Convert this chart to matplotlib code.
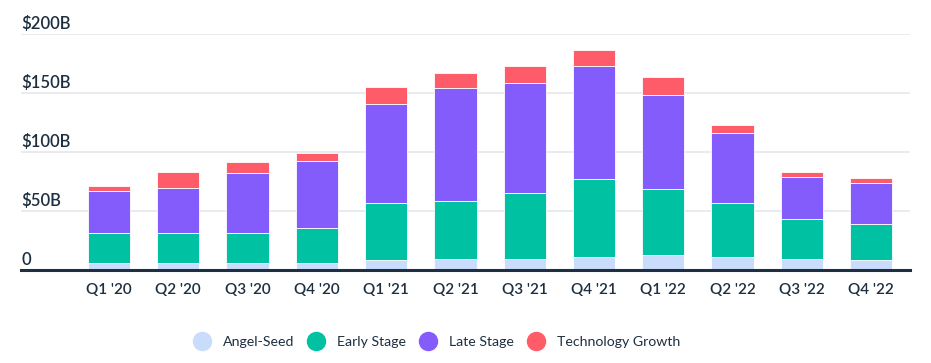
#!/usr/bin/env python3
"""Quarterly venture funding by stage, stacked bars."""
import numpy as np
import matplotlib
matplotlib.use('Agg')
import matplotlib.pyplot as plt
from matplotlib.lines import Line2D
from matplotlib.transforms import blended_transform_factory

#-------------------------------------------------------------------------#
# Data (in $B)                                                            #
#-------------------------------------------------------------------------#
quarters    = ["Q1 '20", "Q2 '20", "Q3 '20", "Q4 '20",
               "Q1 '21", "Q2 '21", "Q3 '21", "Q4 '21",
               "Q1 '22", "Q2 '22", "Q3 '22", "Q4 '22"]
angel_seed  = [6.2, 6.2, 6.2, 6.2, 8.5, 9.6, 9.6, 11.3, 12.4, 11.3, 9.6, 8.2]
early_stage = [24.9, 24.8, 24.8, 29.4, 48.0, 49.1, 55.4, 66.1, 56.0, 45.2, 33.4, 30.5]
late_stage  = [35.9, 38.8, 51.5, 56.5, 83.9, 95.3, 93.2, 95.8, 80.2, 59.9, 35.6, 34.8]
tech_growth = [4.2, 13.0, 8.7, 7.3, 14.7, 12.7, 14.7, 13.5, 15.0, 6.2, 4.2, 4.2]

yticks      = [0, 50, 100, 150, 200]
ytick_lbls  = ['0', '$50B', '$100B', '$150B', '$200B']

series      = ['Angel-Seed', 'Early Stage', 'Late Stage', 'Technology Growth']
colors      = ['#c9dcfc', '#00c2a3', '#845cfc', '#ff5c6a']

#-------------------------------------------------------------------------#
# Plot settings                                                           #
#-------------------------------------------------------------------------#
plt.rcParams['font.family'] = ['Lato', 'DejaVu Sans']
txt_color = '#1d2f40'

fig = plt.figure(figsize=(9.31, 3.63), dpi=100)
ax  = fig.add_axes([21/931, 93/363, 889/931, 236/363])

x       = np.arange(len(quarters))
bottom  = np.zeros(len(quarters))
for vals, col, name in zip([angel_seed, early_stage, late_stage, tech_growth],
                           colors, series):
    ax.bar(x, vals, 0.61, bottom=bottom, color=col, edgecolor='white',
           linewidth=0.6, label=name, zorder=3)
    bottom += np.array(vals)

#-------------------------------------------------------------------------#
# Axes                                                                    #
#-------------------------------------------------------------------------#
ax.set_xlim(-1.27, 11.56)
ax.set_ylim(0, 200)
for s in ['top', 'right', 'left']:
    ax.spines[s].set_visible(False)
ax.spines['bottom'].set_color('#1d2f40')
ax.spines['bottom'].set_linewidth(2.2)
ax.spines['bottom'].set_zorder(5)

ax.set_yticks(yticks)
ax.set_yticklabels([])
ax.tick_params(axis='y', length=0)
ax.grid(axis='y', color='#e9ebee', linewidth=1.4, zorder=0)

# y labels sit just above their gridline
trans = blended_transform_factory(ax.transAxes, ax.transData)
for v, lbl in zip(yticks, ytick_lbls):
    ax.text(0.0, v + 1.5, lbl, transform=trans, ha='left', va='bottom',
            fontsize=12, color=txt_color, fontweight='semibold')
ax.set_xticks(x)
ax.set_xticklabels(quarters, fontsize=11, color=txt_color,
                   fontweight='semibold')
ax.tick_params(axis='x', length=0, pad=9)

#-------------------------------------------------------------------------#
# Legend                                                                  #
#-------------------------------------------------------------------------#
handles = [Line2D([], [], marker='o', linestyle='none', markersize=13,
                  markerfacecolor=c, markeredgecolor=c) for c in colors]
leg = fig.legend(handles, series, loc='center', ncol=4,
                 bbox_to_anchor=(437/931, 21/363), frameon=False,
                 fontsize=10.2, handlelength=1.2, handletextpad=0.88,
                 columnspacing=0.95)
for t in leg.get_texts():
    t.set_color(txt_color)

fig.savefig('out.png', dpi=100)
